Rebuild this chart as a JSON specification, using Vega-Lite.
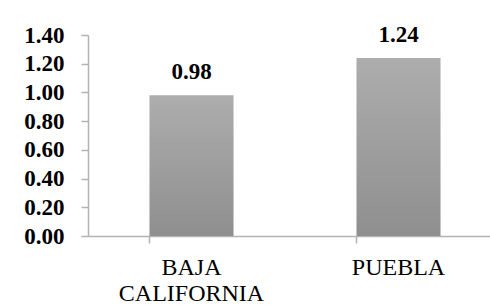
{
  "$schema": "https://vega.github.io/schema/vega-lite/v6.json",
  "autosize": {"type": "none"},
  "padding": {"left": 88, "top": 35, "right": 0, "bottom": 69},
  "width": 414,
  "height": 201,
  "background": "white",
  "config": {"view": {"stroke": null}},
  "data": {"values": [
    {"estado": "BAJA CALIFORNIA", "valor": 0.98},
    {"estado": "PUEBLA", "valor": 1.24}
  ]},
  "encoding": {
    "x": {
      "field": "estado", "type": "nominal", "sort": null,
      "scale": {"paddingInner": 0.594, "paddingOuter": 0.297},
      "axis": {
        "title": null, "labelAngle": 0,
        "labelFont": "Liberation Serif", "labelFontSize": 24, "labelColor": "#000000",
        "labelExpr": "split(datum.label, ' ')",
        "labelLineHeight": 26, "labelPadding": 12, "labelBaseline": "top",
        "tickSize": 7, "tickColor": "#b3b3b3", "domainColor": "#b3b3b3",
        "domainWidth": 1.5, "tickWidth": 1.5, "bandPosition": 0
      }
    },
    "y": {
      "field": "valor", "type": "quantitative",
      "scale": {"domain": [0, 1.4], "nice": false},
      "axis": {
        "title": null, "values": [0, 0.2, 0.4, 0.6, 0.8, 1.0, 1.2, 1.4],
        "format": ".2f", "grid": false,
        "labelFont": "Liberation Serif", "labelFontSize": 23, "labelFontWeight": "bold",
        "labelColor": "#000000", "labelPadding": 17, "tickSize": 7,
        "tickColor": "#b3b3b3", "domainColor": "#b3b3b3", "domainWidth": 1.5, "tickWidth": 1.5
      }
    }
  },
  "layer": [
    {
      "mark": {
        "type": "bar",
        "color": {
          "gradient": "linear", "x1": 0, "y1": 0, "x2": 0, "y2": 1,
          "stops": [{"offset": 0, "color": "#adadad"}, {"offset": 1, "color": "#8f8f8f"}]
        }
      }
    },
    {
      "mark": {
        "type": "text", "baseline": "alphabetic", "dy": -16,
        "font": "Liberation Serif", "fontSize": 23, "fontWeight": "bold", "color": "#000000"
      },
      "encoding": {"text": {"field": "valor", "type": "quantitative", "format": ".2f"}}
    }
  ]
}
